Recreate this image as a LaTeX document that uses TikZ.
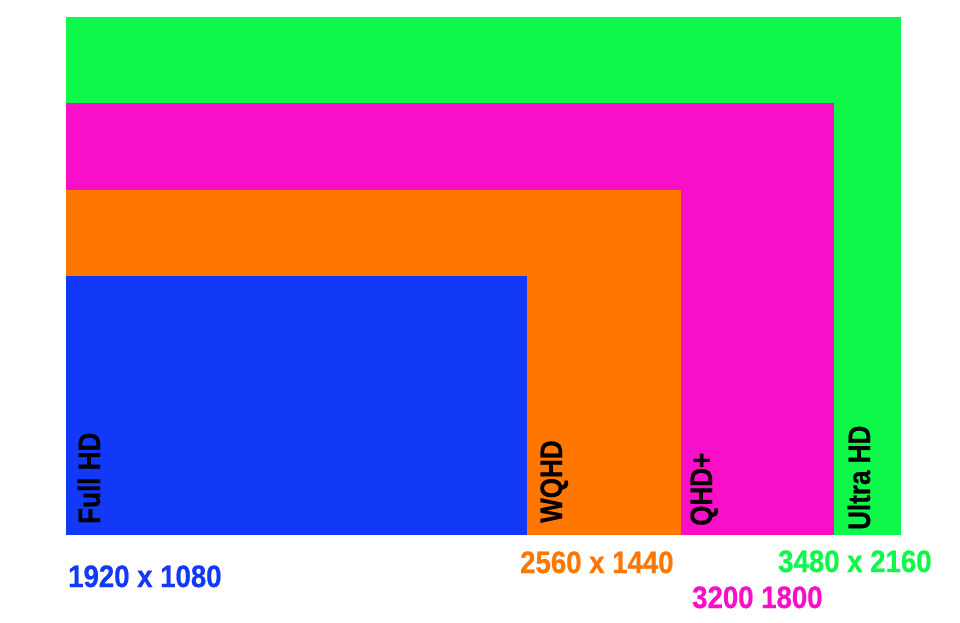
\documentclass[tikz,border=0pt]{standalone}
\usepackage{fontspec}
\setmainfont{Liberation Sans}
\newfontfamily\numfont[FakeStretch=0.89,FakeBold=0.6]{Liberation Sans}
\newfontfamily\labfont[FakeStretch=0.84,FakeBold=0.6]{Liberation Sans}
\definecolor{cgreen}{HTML}{0EF84A}
\definecolor{cmag}{HTML}{F90FC8}
\definecolor{corange}{HTML}{FF7700}
\definecolor{cblue}{HTML}{1339F8}
\tikzset{
  lab/.style={rotate=90,anchor=base west,inner sep=0pt,font=\labfont\bfseries\fontsize{31}{31}\selectfont,text=black},
  num/.style={anchor=base west,inner sep=0pt,font=\numfont\bfseries\fontsize{31}{31}\selectfont}
}
\begin{document}
\begin{tikzpicture}[x=1pt,y=1pt]
\useasboundingbox (0,0) rectangle (960,622);
\fill[white] (0,0) rectangle (960,622);
\fill[cgreen] (66,87) rectangle (901,605);
\fill[cmag] (66,87) rectangle (834,519);
\fill[corange] (66,87) rectangle (681,432);
\fill[cblue] (66,87) rectangle (527,346);
\node[lab] (fhd) at (100,98) {Full HD};
\node[lab] (wqhd) at (562,99) {WQHD};
\node[lab] (qhdp) at (712,96) {QHD+};
\node[lab] (uhd) at (870,92) {Ultra HD};
\node[num,text=cblue] (n1) at (68,35) {1920 x 1080};
\node[num,text=corange] (n2) at (520,49) {2560 x 1440};
\node[num,text=cgreen] (n3) at (778,50) {3480 x 2160};
\node[num,text=cmag] (n4) at (692,14) {3200 1800};
\end{tikzpicture}
\end{document}
